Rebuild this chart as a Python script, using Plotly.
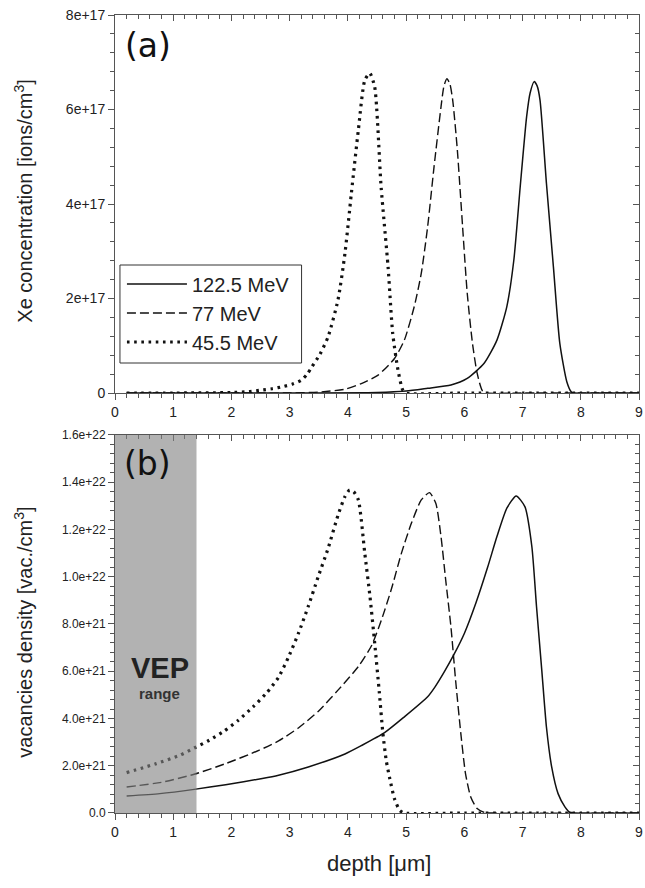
import plotly.graph_objects as go

# ---------------- data ----------------
# Panel (a): Xe concentration, values in units of 1e17 ions/cm^3
depth_a_122 = [0.2, 3.0, 4.5, 5.0, 5.37, 5.77, 6.05, 6.34, 6.56, 6.73, 6.85, 6.96, 7.07, 7.13, 7.20, 7.25, 7.30, 7.41, 7.53, 7.64, 7.76, 7.84, 7.9, 8.5, 9.0]
conc_a_122 = [0, 0, 0.01, 0.04, 0.1, 0.17, 0.31, 0.63, 1.12, 1.83, 2.81, 4.37, 5.85, 6.35, 6.59, 6.5, 6.2, 4.44, 2.67, 1.05, 0.24, 0.02, 0, 0, 0]

depth_a_77 = [0.2, 2.0, 3.0, 3.5, 3.95, 4.23, 4.52, 4.80, 4.97, 5.14, 5.26, 5.37, 5.48, 5.60, 5.65, 5.70, 5.75, 5.80, 5.88, 5.97, 6.05, 6.14, 6.22, 6.31, 6.4, 7.0, 8.0, 9.0]
conc_a_77 = [0, 0, 0, 0.02, 0.08, 0.2, 0.38, 0.73, 1.12, 1.83, 2.53, 3.52, 4.79, 6.06, 6.5, 6.65, 6.55, 6.2, 5.14, 3.52, 2.11, 1.05, 0.42, 0.05, 0, 0, 0, 0]

depth_a_45 = [0.2, 1.0, 2.0, 2.3, 2.5, 2.7, 2.9, 3.05, 3.2, 3.3, 3.38, 3.52, 3.66, 3.83, 3.95, 4.06, 4.18, 4.29, 4.375, 4.46, 4.57, 4.69, 4.77, 4.86, 4.94, 5.0, 6.0, 7.0, 8.0, 9.0]
conc_a_45 = [0, 0, 0.01, 0.03, 0.06, 0.09, 0.14, 0.19, 0.27, 0.4, 0.55, 0.82, 1.19, 1.97, 2.96, 4.23, 5.57, 6.62, 6.77, 6.48, 4.37, 2.67, 1.26, 0.49, 0.07, 0, 0, 0, 0, 0]

# Panel (b): vacancies density, values in units of 1e21 vac./cm^3
depth_b_122 = [0.2, 0.77, 1.36, 1.90, 2.53, 2.81, 3.32, 3.95, 4.23, 4.63, 4.97, 5.37, 5.5, 5.65, 5.82, 6.0, 6.2, 6.4, 6.56, 6.73, 6.89, 7.04, 7.16, 7.24, 7.33, 7.41, 7.50, 7.61, 7.73, 7.81, 7.9, 9.0]
vac_b_122 = [0.72, 0.82, 1.0, 1.2, 1.46, 1.6, 1.95, 2.5, 2.85, 3.4, 4.07, 4.92, 5.35, 5.95, 6.7, 7.6, 8.9, 10.4, 11.7, 12.9, 13.42, 12.97, 11.27, 8.73, 6.05, 3.64, 1.95, 0.82, 0.25, 0.03, 0, 0]

depth_b_77 = [0.2, 0.8, 1.36, 1.9, 2.47, 2.81, 3.15, 3.49, 3.83, 4.18, 4.41, 4.58, 4.75, 4.92, 5.09, 5.26, 5.40, 5.51, 5.60, 5.68, 5.77, 5.85, 5.94, 6.02, 6.11, 6.22, 6.35, 6.5, 9.0]
vac_b_77 = [1.1, 1.3, 1.64, 2.09, 2.65, 3.05, 3.6, 4.3, 5.2, 6.2, 7.1, 8.2, 9.5, 11.0, 12.26, 13.25, 13.56, 13.11, 11.69, 9.86, 7.88, 5.62, 3.36, 1.67, 0.68, 0.19, 0.02, 0, 0]

depth_b_45 = [0.2, 0.71, 1.11, 1.36, 1.62, 1.87, 2.12, 2.37, 2.61, 2.81, 2.98, 3.15, 3.32, 3.49, 3.66, 3.83, 3.95, 4.03, 4.1, 4.18, 4.29, 4.38, 4.46, 4.54, 4.60, 4.66, 4.72, 4.80, 4.89, 4.97, 6.0, 7.0, 8.0, 9.0]
vac_b_45 = [1.71, 2.09, 2.44, 2.75, 3.08, 3.46, 3.93, 4.49, 5.1, 5.75, 6.6, 7.6, 8.75, 10.0, 11.2, 12.6, 13.4, 13.67, 13.6, 13.25, 11.0, 9.15, 7.2, 5.1, 3.4, 2.2, 1.45, 0.6, 0.11, 0, 0, 0, 0, 0]

series_names = ["122.5 MeV", "77 MeV", "45.5 MeV"]

x_ticks = [0, 1, 2, 3, 4, 5, 6, 7, 8, 9]
ya_tickvals = [0, 2e17, 4e17, 6e17, 8e17]
ya_ticktext = ["0", "2e+17", "4e+17", "6e+17", "8e+17"]
yb_tickvals = [0, 2e21, 4e21, 6e21, 8e21, 1.0e22, 1.2e22, 1.4e22, 1.6e22]
yb_ticktext = ["0.0", "2.0e+21", "4.0e+21", "6.0e+21", "8.0e+21", "1.0e+22", "1.2e+22", "1.4e+22", "1.6e+22"]

vep_range = [0, 1.4]

# ---------------- figure ----------------
FONT = "Liberation Sans"
AX = "#555555"
styles = [dict(color="#111", width=1.5, dash="solid"),
          dict(color="#111", width=1.4, dash="9px,4px"),
          dict(color="#111", width=3.2, dash="2.6px,4.6px")]

fig = go.Figure()

top = [(depth_a_122, conc_a_122), (depth_a_77, conc_a_77), (depth_a_45, conc_a_45)]
bot = [(depth_b_122, vac_b_122), (depth_b_77, vac_b_77), (depth_b_45, vac_b_45)]

for i, (d, v) in enumerate(top):
    fig.add_trace(go.Scatter(x=d, y=[val * 1e17 for val in v], mode="lines",
                             line=dict(**styles[i], shape="spline", smoothing=0.6),
                             name=series_names[i], legendgroup=series_names[i],
                             xaxis="x", yaxis="y"))
for i, (d, v) in enumerate(bot):
    fig.add_trace(go.Scatter(x=d, y=[val * 1e21 for val in v], mode="lines",
                             line=dict(**styles[i], shape="spline", smoothing=0.6),
                             name=series_names[i], showlegend=False,
                             xaxis="x2", yaxis="y2"))

# invisible traces so that the mirror axes (top / right, inward ticks) get drawn
for xa, ya, d, v in [("x3", "y", depth_a_122, conc_a_122), ("x", "y3", depth_a_122, conc_a_122),
                     ("x4", "y2", depth_b_122, vac_b_122), ("x2", "y4", depth_b_122, vac_b_122)]:
    fig.add_trace(go.Scatter(x=d, y=v, mode="none", showlegend=False,
                             hoverinfo="skip", xaxis=xa, yaxis=ya))

top_dom = [0.5263, 1.0]
bot_dom = [0.0, 0.4737]

xcommon = dict(range=[0, 9], tickvals=x_ticks, showgrid=False, zeroline=False,
               showline=True, linecolor=AX, linewidth=1, ticks="outside", ticklen=6,
               tickcolor=AX, tickfont=dict(family=FONT, size=14, color="#222"),
               ticklabeloverflow="allow",
               minor=dict(dtick=0.2, ticks="outside", ticklen=4, tickcolor=AX, showgrid=False))
xin = dict(range=[0, 9], tickvals=x_ticks, showgrid=False, zeroline=False,
           showline=True, linecolor=AX, linewidth=1, ticks="inside", ticklen=6,
           tickcolor=AX, showticklabels=False, side="top",
           minor=dict(dtick=0.2, ticks="inside", ticklen=4, tickcolor=AX, showgrid=False))

ycommon = dict(showgrid=False, zeroline=False, showline=True, linecolor=AX, linewidth=1,
               ticks="outside", ticklen=6, tickcolor=AX, ticklabeloverflow="allow")
yin = dict(showgrid=False, zeroline=False, showline=True, linecolor=AX, linewidth=1,
           ticks="inside", ticklen=6, tickcolor=AX, showticklabels=False, side="right")

fig.update_layout(
    width=645, height=888,
    margin=dict(l=115, r=2, t=15, b=75),
    paper_bgcolor="white", plot_bgcolor="white",
    font=dict(family=FONT),
    xaxis=dict(**xcommon, anchor="y", domain=[0, 1]),
    xaxis2=dict(**xcommon, anchor="y2", domain=[0, 1]),
    xaxis3=dict(**xin, overlaying="x", anchor="y"),
    xaxis4=dict(**xin, overlaying="x2", anchor="y2"),
    yaxis=dict(**ycommon, domain=top_dom, anchor="x", range=[0, 8e17],
               tickvals=ya_tickvals, ticktext=ya_ticktext,
               tickfont=dict(family=FONT, size=14, color="#222"),
               minor=dict(dtick=0.4e17, ticks="outside", ticklen=4, tickcolor=AX, showgrid=False)),
    yaxis2=dict(**ycommon, domain=bot_dom, anchor="x2", range=[0, 1.6e22],
                tickvals=yb_tickvals, ticktext=yb_ticktext,
                tickfont=dict(family=FONT, size=12, color="#222"),
                minor=dict(dtick=0.4e21, ticks="outside", ticklen=4, tickcolor=AX, showgrid=False)),
    yaxis3=dict(**yin, range=[0, 8e17], overlaying="y", anchor="x", tickvals=ya_tickvals,
                minor=dict(dtick=0.4e17, ticks="inside", ticklen=4, tickcolor=AX, showgrid=False)),
    yaxis4=dict(**yin, range=[0, 1.6e22], overlaying="y2", anchor="x2", tickvals=yb_tickvals,
                minor=dict(dtick=0.4e21, ticks="inside", ticklen=4, tickcolor=AX, showgrid=False)),
    legend=dict(x=(122 - 115) / 528, y=(813 - 313) / 798, xanchor="left", yanchor="middle",
                bgcolor="rgba(0,0,0,0)", borderwidth=0,
                font=dict(family=FONT, size=20, color="#222"),
                itemwidth=60, tracegroupgap=0, traceorder="normal"),
    showlegend=True,
)

# legend frame
fig.add_shape(type="rect", xref="paper", yref="paper",
              x0=(120 - 115) / 528, x1=(303 - 115) / 528,
              y0=(813 - 363) / 798, y1=(813 - 265) / 798,
              fillcolor="white", line=dict(color="#333", width=1), layer="below")

fig.add_shape(type="rect", xref="x2", yref="y2 domain", x0=vep_range[0], x1=vep_range[1],
              y0=0, y1=1, fillcolor="rgba(130,130,130,0.62)", line=dict(width=0), layer="above")

ann = [
    dict(text="(a)", xref="paper", yref="paper", x=(148 - 115) / 528, y=(813 - 45) / 798,
         font=dict(family="DejaVu Sans", size=33, color="#111"), bgcolor="white"),
    dict(text="(b)", xref="paper", yref="paper", x=(148 - 115) / 528, y=(813 - 463) / 798,
         font=dict(family="DejaVu Sans", size=33, color="#111")),
    dict(text="<b>VEP</b>", xref="paper", yref="paper", x=(160 - 115) / 528, y=(813 - 668) / 798,
         font=dict(family=FONT, size=29, color="#222")),
    dict(text="<b>range</b>", xref="paper", yref="paper", x=(160 - 115) / 528, y=(813 - 693) / 798,
         font=dict(family=FONT, size=15, color="#333")),
    dict(text="Xe concentration [ions/cm<sup>3</sup>]", xref="paper", yref="paper",
         x=(22 - 115) / 528, y=(813 - 201) / 798, textangle=-90,
         font=dict(family=FONT, size=20, color="#222")),
    dict(text="vacancies density [vac./cm<sup>3</sup>]", xref="paper", yref="paper",
         x=(22 - 115) / 528, y=(813 - 632) / 798, textangle=-90,
         font=dict(family=FONT, size=20, color="#222")),
    dict(text="depth [μm]", xref="paper", yref="paper",
         x=(381 - 115) / 528, y=(813 - 864) / 798,
         font=dict(family=FONT, size=22, color="#222")),
]
for a in ann:
    a.setdefault("showarrow", False)
    a.setdefault("xanchor", "center")
    a.setdefault("yanchor", "middle")
    fig.add_annotation(**a)

fig.write_html("out.html", config={"displayModeBar": False},
               post_script="document.body.style.margin='0';document.body.style.overflow='hidden';")
